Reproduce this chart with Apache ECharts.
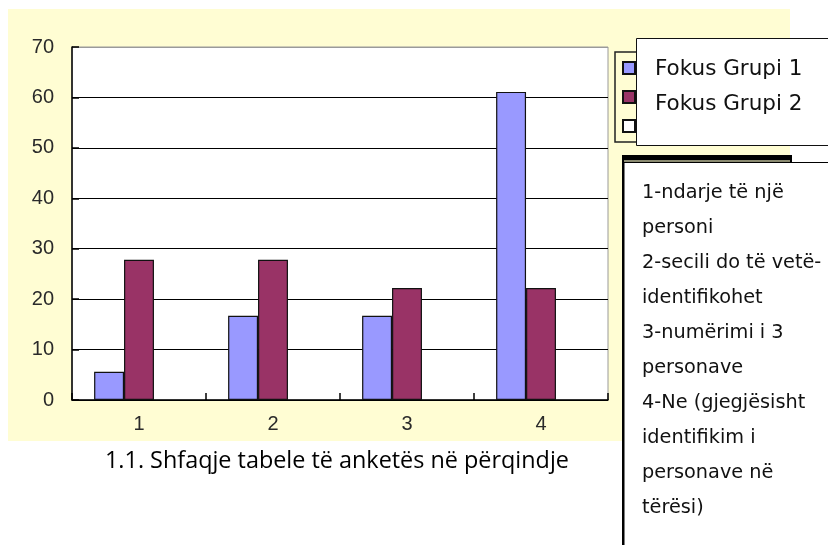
<!DOCTYPE html>
<html>
<head>
<meta charset="utf-8">
<script src="https://cdn.jsdelivr.net/npm/echarts@6/dist/echarts.min.js"></script>
<style>
html,body{margin:0;padding:0;background:#fff;}
#c{width:828px;height:545px;}
</style>
</head>
<body>
<div id="c"></div>
<script>
// ---- data ----
const categories = ['1', '2', '3', '4'];
const seriesNames = ['Fokus Grupi 1', 'Fokus Grupi 2', 'Fokus Grupi 3'];
const grupi1 = [5.6, 16.7, 16.7, 61.1];
const grupi2 = [27.8, 27.8, 22.2, 22.2];
const grupi3 = [null, null, null, null];
const yMin = 0, yMax = 70, yInterval = 10;
const legendLabels = ['Fokus Grupi 1', 'Fokus Grupi 2'];
const noteLines = [
  '1-ndarje të një',
  'personi',
  '2-secili do të vetë-',
  'identifikohet',
  '3-numërimi i 3',
  'personave',
  '4-Ne (gjegjësisht',
  'identifikim i',
  'personave në',
  'tërësi)'
];
const caption = '1.1. Shfaqje tabele të anketës në përqindje';

// ---- chart ----
const chart = echarts.init(document.getElementById('c'), null, {renderer: 'canvas'});

const colors = ['#9999FF', '#993366', '#FFFFFF'];
const seriesData = [grupi1, grupi2, grupi3];

const graphics = [];
// yellow chart-area background
graphics.push({type: 'rect', z: -10, shape: {x: 8, y: 9, width: 782, height: 432}, style: {fill: '#FFFDD3'}});
// white box covering legend labels
graphics.push({type: 'rect', z: 100, shape: {x: 636.5, y: 38.5, width: 200, height: 107}, style: {fill: '#fff', stroke: '#111', lineWidth: 1}});
legendLabels.forEach((t, i) => {
  graphics.push({type: 'text', z: 101, x: 655, y: 69 + i * 35, style: {text: t, fontFamily: 'DejaVu Sans', fontSize: 21.5, fill: '#111', textVerticalAlign: 'middle', verticalAlign: 'middle'}});
});
// black bar above note box
graphics.push({type: 'rect', z: 100, shape: {x: 622, y: 155, width: 170, height: 7}, style: {fill: '#000'}});
graphics.push({type: 'rect', z: 101, shape: {x: 624, y: 160, width: 166, height: 2}, style: {fill: '#8a8a70'}});
// note box
graphics.push({type: 'rect', z: 102, shape: {x: 623, y: 162.5, width: 220, height: 400}, style: {fill: '#fff', stroke: '#000', lineWidth: 1}});
graphics.push({type: 'rect', z: 103, shape: {x: 622, y: 162, width: 2.5, height: 400}, style: {fill: '#000'}});
noteLines.forEach((t, i) => {
  graphics.push({type: 'text', z: 104, x: 642, y: 193 + i * 35, style: {text: t, fontFamily: 'DejaVu Sans', fontSize: 19.3, fill: '#111', textVerticalAlign: 'middle', verticalAlign: 'middle'}});
});
// caption
graphics.push({type: 'text', z: 104, x: 105, y: 461, style: {text: caption, fontFamily: 'Open Sans', fontSize: 23.4, fill: '#000', textVerticalAlign: 'middle', verticalAlign: 'middle'}});

const option = {
  animation: false,
  backgroundColor: '#fff',
  grid: {
    left: 72, top: 47, right: 828 - 608, bottom: 545 - 400,
    show: true, backgroundColor: '#fff', borderColor: '#9a9a9a', borderWidth: 1
  },
  legend: {
    orient: 'vertical',
    left: 615, top: 52,
    padding: [9, 60, 9, 7],
    itemWidth: 12, itemHeight: 12, itemGap: 15,
    icon: 'rect',
    borderColor: '#222', borderWidth: 1.5,
    backgroundColor: 'transparent',
    data: seriesNames,
    formatter: () => '',
    textStyle: {fontSize: 10, lineHeight: 12},
    selectedMode: false
  },
  xAxis: {
    type: 'category',
    data: categories,
    boundaryGap: true,
    axisLine: {show: true, lineStyle: {color: '#000', width: 1.5}},
    axisTick: {show: true, inside: true, length: 7, lineStyle: {color: '#000', width: 1.5}},
    axisLabel: {fontFamily: 'Liberation Sans', fontSize: 20, color: '#2a2a2a', margin: 14},
    splitLine: {show: false}
  },
  yAxis: {
    type: 'value',
    min: yMin, max: yMax, interval: yInterval,
    axisLine: {show: true, lineStyle: {color: '#000', width: 1.5}},
    axisTick: {show: true, inside: true, length: 7, lineStyle: {color: '#000', width: 1.5}},
    axisLabel: {fontFamily: 'Liberation Sans', fontSize: 20, color: '#2a2a2a', margin: 18},
    splitLine: {show: true, lineStyle: {color: ['#000', '#000', '#000', '#000', '#000', '#000', '#000', '#9a9a9a'], width: 1.2}}
  },
  series: seriesNames.map((n, i) => ({
    name: n,
    type: 'bar',
    data: seriesData[i],
    barGap: '0%',
    barCategoryGap: '33%',
    itemStyle: {color: colors[i], borderColor: '#111', borderWidth: 1.2}
  })),
  graphic: graphics
};
chart.setOption(option);
</script>
</body>
</html>
